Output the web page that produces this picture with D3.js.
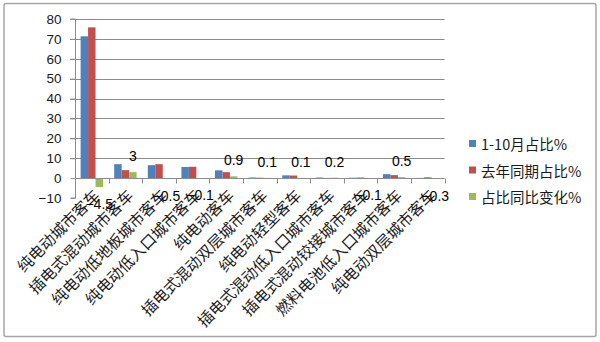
<!DOCTYPE html>
<html>
<head>
<meta charset="utf-8">
<script src="https://cdn.jsdelivr.net/npm/d3@7"></script>
<style>
  html, body { margin: 0; padding: 0; background: #fff; }
  svg { display: block; }
</style>
</head>
<body>
<svg id="chart" width="600" height="342"></svg>
<script>
// Bus model categories
const categories = [
  "纯电动城市客车",
  "插电式混动城市客车",
  "纯电动低地板城市客车",
  "纯电动低入口城市客车",
  "纯电动客车",
  "插电式混动双层城市客车",
  "纯电动轻型客车",
  "插电式混动低入口城市客车",
  "插电式混动铰接城市客车",
  "燃料电池低入口城市客车",
  "纯电动双层城市客车"
];

const seriesNames = ["1-10月占比%", "去年同期占比%", "占比同比变化%"];

// Share Jan–Oct (%)
const shareJanOct = [71.3, 7.0, 6.5, 5.6, 3.9, 0.3, 1.4, 0.3, 0.2, 2.0, 0.1];
// Share same period last year (%)
const shareLastYear = [75.8, 4.0, 7.0, 5.7, 3.0, 0.2, 1.3, 0.1, 0.3, 1.5, 0.4];
// Year-on-year change of share (%)
const shareChange = [-4.5, 3, -0.5, -0.1, 0.9, 0.1, 0.1, 0.2, -0.1, 0.5, -0.3];

const yTicks = [-10, 0, 10, 20, 30, 40, 50, 60, 70, 80];
const colors = ["#4F81BD", "#C0504D", "#9BBB59"];

const seriesValues = [shareJanOct, shareLastYear, shareChange];

const svg = d3.select("#chart");

// Outer chart frame
svg.append("rect")
  .attr("x", 4).attr("y", 3.5)
  .attr("width", 592).attr("height", 333)
  .attr("rx", 2)
  .attr("fill", "#fff")
  .attr("stroke", "#a6a6a6")
  .attr("stroke-width", 1.5);

const plotLeft = 75, plotRight = 444.6, plotTop = 19, plotBottom = 198;

const x = d3.scaleBand().domain(categories).range([plotLeft, plotRight]).paddingInner(0).paddingOuter(0);
const xs = d3.scaleBand().domain(seriesNames).range([0, x.bandwidth()]).paddingInner(0).paddingOuter(0.75);
const y = d3.scaleLinear().domain([-10, 80]).range([plotBottom, plotTop]);

// Horizontal gridlines
svg.append("g")
  .selectAll("line")
  .data(yTicks.filter(t => t > 0))
  .join("line")
  .attr("x1", plotLeft - 5).attr("x2", plotRight)
  .attr("y1", d => Math.round(y(d)) + 0.5).attr("y2", d => Math.round(y(d)) + 0.5)
  .attr("stroke", "#8c8c8c").attr("stroke-width", 1);

// Y axis
const yAxis = svg.append("g")
  .attr("transform", `translate(${plotLeft + 0.5},0)`)
  .call(d3.axisLeft(y).tickValues(yTicks).tickSize(5).tickPadding(9).tickFormat(d3.format("d")));
yAxis.select(".domain").attr("stroke", "#8c8c8c").attr("d", `M-5,${plotTop}H0V${plotBottom}H-5`);
yAxis.selectAll(".tick line").attr("stroke", "#8c8c8c");
yAxis.selectAll(".tick text")
  .attr("font-family", "'Liberation Sans', Arial, sans-serif")
  .attr("font-size", 13.5)
  .attr("fill", "#1a1a1a");

// Bars
const bars = svg.append("g");
seriesValues.forEach((vals, si) => {
  bars.selectAll(null)
    .data(vals)
    .join("rect")
    .attr("x", (d, i) => x(categories[i]) + xs(seriesNames[si]))
    .attr("width", xs.bandwidth())
    .attr("y", d => y(Math.max(0, d)))
    .attr("height", d => Math.abs(y(d) - y(0)))
    .attr("fill", colors[si]);
});

// Category (zero) axis with tick marks between categories
const zeroY = Math.round(y(0)) + 0.5;
const xAxis = svg.append("g");
xAxis.append("line")
  .attr("x1", plotLeft).attr("x2", plotRight)
  .attr("y1", zeroY).attr("y2", zeroY)
  .attr("stroke", "#8c8c8c");
const boundaries = categories.map(c => x(c)).concat([plotRight]);
xAxis.selectAll("line.tk")
  .data(boundaries.slice(1))
  .join("line")
  .attr("class", "tk")
  .attr("x1", d => Math.round(d) + 0.5).attr("x2", d => Math.round(d) + 0.5)
  .attr("y1", zeroY).attr("y2", zeroY + 5)
  .attr("stroke", "#8c8c8c");

// Rotated category labels
svg.append("g")
  .selectAll("text")
  .data(categories)
  .join("text")
  .attr("transform", d => `translate(${x(d) + x.bandwidth() / 2 + 4},${zeroY + 13}) rotate(-45)`)
  .attr("text-anchor", "end")
  .attr("dominant-baseline", "central")
  .attr("font-family", "'Noto Sans CJK SC', sans-serif")
  .attr("font-size", 15.5)
  .attr("fill", "#1a1a1a")
  .text(d => d);

// Data labels for the change series
svg.append("g")
  .selectAll("text")
  .data(shareChange)
  .join("text")
  .attr("x", (d, i) => x(categories[i]) + xs(seriesNames[2]) + xs.bandwidth() / 2)
  .attr("y", d => d >= 0 ? y(d) - 11 : y(d) + 22)
  .attr("text-anchor", "middle")
  .attr("font-family", "'Liberation Sans', Arial, sans-serif")
  .attr("font-size", 14)
  .attr("fill", "#000")
  .text(d => d3.format("")(d));

// Legend
const legend = svg.append("g");
const legendRows = [143.5, 170, 196.5];
seriesNames.forEach((name, i) => {
  legend.append("rect")
    .attr("x", 469).attr("y", legendRows[i] - 3.5)
    .attr("width", 7).attr("height", 7)
    .attr("fill", colors[i]);
  legend.append("text")
    .attr("x", 481).attr("y", legendRows[i])
    .attr("dominant-baseline", "central")
    .attr("font-family", "'Noto Sans CJK SC', sans-serif")
    .attr("font-size", 14.5)
    .attr("fill", "#1a1a1a")
    .text(name);
});
</script>
</body>
</html>
